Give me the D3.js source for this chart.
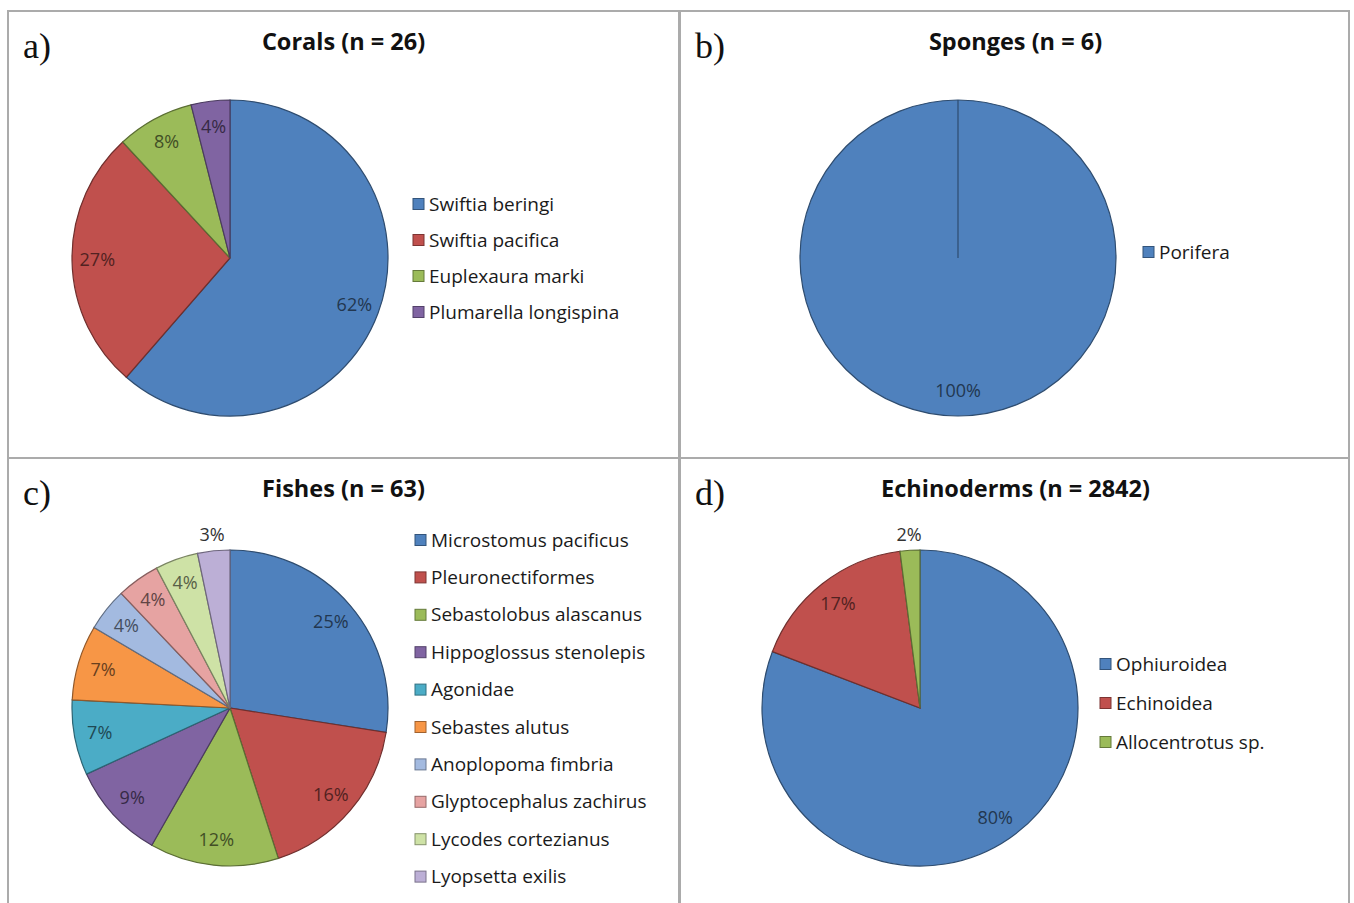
<!DOCTYPE html>
<html>
<head>
<meta charset="utf-8">
<script src="https://cdn.jsdelivr.net/npm/d3@7"></script>
<style>
  html, body { margin: 0; padding: 0; background: #ffffff; }
  svg { display: block; }
</style>
</head>
<body>
<svg id="chart" width="1354" height="903"></svg>
<script>
// ---------------- DATA ----------------
const coralCategories = ["Swiftia beringi", "Swiftia pacifica", "Euplexaura marki", "Plumarella longispina"];
const coralValues = [62, 27, 8, 4];

const spongeCategories = ["Porifera"];
const spongeValues = [100];

const fishCategories = ["Microstomus pacificus", "Pleuronectiformes", "Sebastolobus alascanus",
  "Hippoglossus stenolepis", "Agonidae", "Sebastes alutus", "Anoplopoma fimbria",
  "Glyptocephalus zachirus", "Lycodes cortezianus", "Lyopsetta exilis"];
const fishValues = [25, 16, 12, 9, 7, 7, 4, 4, 4, 3];

const echinoCategories = ["Ophiuroidea", "Echinoidea", "Allocentrotus sp."];
const echinoValues = [80, 17, 2];

const panelLetters = ["a)", "b)", "c)", "d)"];
const panelTitles = ["Corals (n = 26)", "Sponges (n = 6)", "Fishes (n = 63)", "Echinoderms (n = 2842)"];

const palette = ["#4F81BD", "#C0504D", "#9BBB59", "#8064A2", "#4BACC6", "#F79646",
  "#A3BAE0", "#E6A3A2", "#CEE2A6", "#BCAFD6"];

// ---------------- LAYOUT ----------------
const panels = [
  { cats: coralCategories, vals: coralValues, x: 8, y: 11, cx: 222, cy: 247, lx: 405, ly: 193, ls: 36 },
  { cats: spongeCategories, vals: spongeValues, x: 680, y: 11, cx: 278, cy: 247, lx: 463, ly: 241, ls: 36 },
  { cats: fishCategories, vals: fishValues, x: 8, y: 458, cx: 222, cy: 250, lx: 407, ly: 82, ls: 37.4 },
  { cats: echinoCategories, vals: echinoValues, x: 680, y: 458, cx: 240, cy: 250, lx: 420, ly: 206, ls: 39 }
];
const PW = 669, PH = 447, R = 158;
const FONT = "'Open Sans', Lato, sans-serif";

const svg = d3.select("#chart");

panels.forEach((p, i) => {
  const g = svg.append("g").attr("transform", `translate(${p.x},${p.y})`);

  // border
  g.append("rect")
    .attr("x", 0).attr("y", 0).attr("width", PW + (i % 2 === 0 ? 2 : 0)).attr("height", PH)
    .attr("fill", "none").attr("stroke", "#ababab").attr("stroke-width", 2);

  // panel letter
  g.append("text")
    .attr("x", 15).attr("y", 47)
    .attr("font-family", "'Liberation Serif', 'DejaVu Serif', serif")
    .attr("font-size", 36)
    .attr("fill", "#111")
    .text(panelLetters[i]);

  // title
  g.append("text")
    .attr("x", PW / 2 + 1).attr("y", 39)
    .attr("text-anchor", "middle")
    .attr("font-family", FONT)
    .attr("font-weight", "bold")
    .attr("font-size", 23.5)
    .attr("fill", "#111")
    .text(panelTitles[i]);

  const color = d3.scaleOrdinal().domain(p.cats).range(palette);
  const pie = d3.pie().sort(null).value(d => d.v);
  const data = p.cats.map((c, k) => ({ c, v: p.vals[k] }));
  const arcs = pie(data);
  const arc = d3.arc().innerRadius(0).outerRadius(R);
  const labelArc = d3.arc().innerRadius(R * 0.84).outerRadius(R * 0.84);
  const outerArc = d3.arc().innerRadius(R + 16).outerRadius(R + 16);

  const pg = g.append("g").attr("transform", `translate(${p.cx},${p.cy})`);
  pg.selectAll("path.slice")
    .data(arcs)
    .enter().append("path")
    .attr("class", "slice")
    .attr("d", arc)
    .attr("fill", d => color(d.data.c))
    .attr("stroke", d => d3.color(color(d.data.c)).darker(1.5))
    .attr("stroke-width", 1.2);

  // radial edge line for a single full slice
  if (arcs.length === 1) {
    const a0 = arcs[0].startAngle;
    pg.append("line")
      .attr("x1", 0).attr("y1", 0)
      .attr("x2", R * Math.sin(a0)).attr("y2", -R * Math.cos(a0))
      .attr("stroke", d3.color(color(arcs[0].data.c)).darker(1.5))
      .attr("stroke-width", 1.2);
  }

  pg.selectAll("text.lbl")
    .data(arcs)
    .enter().append("text")
    .attr("class", "lbl")
    .attr("transform", d => `translate(${(d.data.v < 3.5 ? outerArc : labelArc).centroid(d)})`)
    .attr("text-anchor", "middle")
    .attr("dy", "0.35em")
    .attr("font-family", FONT)
    .attr("font-size", 18)
    .attr("fill", d => d.data.v < 3.5 ? "#333" : d3.color(color(d.data.c)).darker(2.4))
    .text(d => d.data.v + "%");

  // legend
  const lg = g.append("g").attr("transform", `translate(${p.lx},${p.ly})`);
  const items = lg.selectAll("g.item")
    .data(p.cats)
    .enter().append("g")
    .attr("class", "item")
    .attr("transform", (d, k) => `translate(0,${k * p.ls})`);
  items.append("rect")
    .attr("x", 0).attr("y", -5.5).attr("width", 11).attr("height", 11)
    .attr("fill", d => color(d))
    .attr("stroke", d => d3.color(color(d)).darker(1.2))
    .attr("stroke-width", 1);
  items.append("text")
    .attr("x", 16).attr("y", 0).attr("dy", "0.35em")
    .attr("font-family", FONT)
    .attr("font-size", 19)
    .attr("fill", "#1a1a1a")
    .text(d => d);
});
</script>
</body>
</html>
